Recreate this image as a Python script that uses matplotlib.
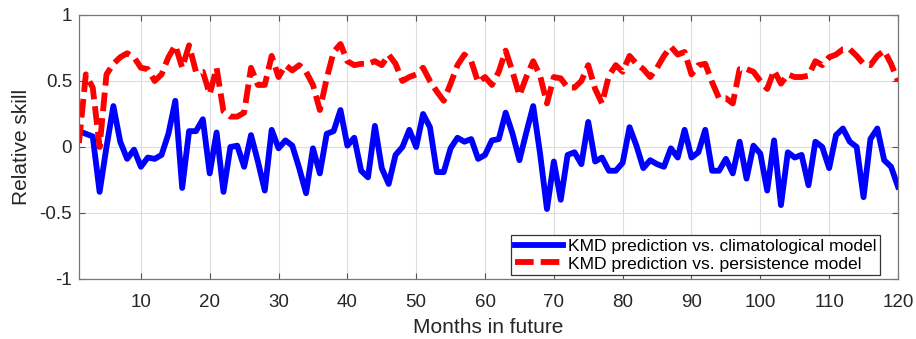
import numpy as np
import matplotlib.pyplot as plt
from matplotlib.ticker import FuncFormatter

plt.rcParams['font.family'] = ['Liberation Sans', 'DejaVu Sans']

months = np.arange(1, 121)

# relative skill of KMD prediction against the climatological model
clim_skill = [
    0.12, 0.10, 0.08, -0.34, 0.00, 0.31, 0.04, -0.09, -0.02, -0.15,
    -0.08, -0.09, -0.06, 0.10, 0.35, -0.31, 0.12, 0.12, 0.21, -0.20,
    0.11, -0.34, 0.00, 0.01, -0.15, 0.09, -0.11, -0.33, 0.13, -0.01,
    0.05, 0.01, -0.16, -0.35, -0.01, -0.20, 0.10, 0.12, 0.28, 0.01,
    0.07, -0.18, -0.23, 0.16, -0.16, -0.28, -0.06, 0.00, 0.13, 0.00,
    0.25, 0.15, -0.19, -0.19, -0.01, 0.07, 0.04, 0.06, -0.09, -0.06,
    0.05, 0.06, 0.26, 0.10, -0.10, 0.11, 0.31, -0.05, -0.47, -0.11,
    -0.40, -0.06, -0.04, -0.13, 0.19, -0.11, -0.08, -0.18, -0.18, -0.12,
    0.15, 0.01, -0.16, -0.10, -0.13, -0.15, -0.01, -0.08, 0.13, -0.08,
    -0.04, 0.13, -0.18, -0.18, -0.09, -0.20, 0.04, -0.24, 0.01, -0.05,
    -0.33, 0.05, -0.44, -0.04, -0.08, -0.06, -0.29, 0.04, 0.00, -0.16,
    0.09, 0.14, 0.04, 0.00, -0.38, 0.06, 0.14, -0.10, -0.15, -0.30,
]

# relative skill of KMD prediction against the persistence model
pers_skill = [
    0.03, 0.55, 0.45, 0.00, 0.55, 0.63, 0.68, 0.71, 0.68, 0.60,
    0.59, 0.50, 0.55, 0.68, 0.77, 0.60, 0.77, 0.57, 0.57, 0.40,
    0.60, 0.27, 0.23, 0.23, 0.26, 0.60, 0.47, 0.47, 0.69, 0.53,
    0.62, 0.58, 0.62, 0.57, 0.47, 0.28, 0.52, 0.72, 0.78, 0.65,
    0.62, 0.63, 0.63, 0.65, 0.62, 0.70, 0.63, 0.50, 0.53, 0.55,
    0.60, 0.50, 0.42, 0.35, 0.48, 0.62, 0.70, 0.65, 0.49, 0.53,
    0.47, 0.57, 0.73, 0.57, 0.39, 0.53, 0.65, 0.54, 0.33, 0.53,
    0.52, 0.45, 0.45, 0.50, 0.62, 0.44, 0.33, 0.54, 0.62, 0.57,
    0.69, 0.63, 0.59, 0.53, 0.60, 0.69, 0.76, 0.70, 0.72, 0.55,
    0.62, 0.63, 0.49, 0.37, 0.37, 0.33, 0.59, 0.59, 0.57, 0.50,
    0.44, 0.58, 0.48, 0.55, 0.53, 0.53, 0.54, 0.65, 0.62, 0.68,
    0.70, 0.74, 0.74, 0.69, 0.63, 0.62, 0.69, 0.73, 0.63, 0.50,
]

labels = ['KMD prediction vs. climatological model',
          'KMD prediction vs. persistence model']

fig = plt.figure(figsize=(9.16, 3.39), dpi=100)
ax = fig.add_axes([0.0862, 0.177, 0.8941, 0.7788])

ax.plot(months, clim_skill, color='#0000ff', lw=4.2, label=labels[0])
ax.plot(months, pers_skill, color='#ff0000', lw=4.2, ls=(0, (3.2, 1.2)),
        label=labels[1])

ax.set_xlim(1, 120)
ax.set_ylim(-1, 1)
ax.set_xticks(np.arange(10, 121, 10))
ax.set_yticks([-1, -0.5, 0, 0.5, 1])
ax.yaxis.set_major_formatter(FuncFormatter(lambda v, p: f'{v:g}'))
ax.grid(True, color='#dcdcdc', lw=0.8)
ax.set_axisbelow(True)
ax.tick_params(direction='in', top=True, right=True, length=4,
               labelsize=13.5, color='#555555', labelcolor='#262626')
ax.tick_params(axis='x', pad=10.5)
ax.tick_params(axis='y', pad=5)
for s in ax.spines.values():
    s.set_color('#777777')
    s.set_linewidth(0.9)

ax.set_xlabel('Months in future', fontsize=15, color='#262626', labelpad=5)
ax.set_ylabel('Relative skill', fontsize=15, color='#262626', labelpad=6)

leg = ax.legend(loc='lower right', bbox_to_anchor=(0.978, 0.015),
                borderaxespad=0, fontsize=12.6, handlelength=2.75,
                fancybox=False, framealpha=1, borderpad=0.2,
                labelspacing=0.15, handletextpad=0.3)
leg.get_frame().set_edgecolor('#333333')
leg.get_frame().set_linewidth(0.9)

fig.savefig('out.png', dpi=100)
